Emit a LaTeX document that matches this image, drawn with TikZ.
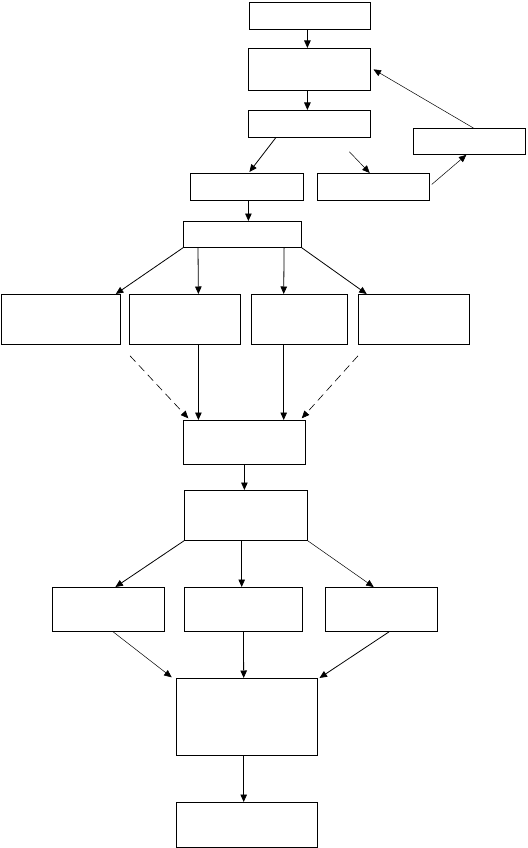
\documentclass[tikz,border=0pt]{standalone}
\usetikzlibrary{arrows.meta}
\begin{document}
\begin{tikzpicture}[x=1pt,y=-1pt,
  box/.style={draw,line width=0.8pt,inner sep=0pt,anchor=north west},
  arr/.style={-{Triangle[length=7.5pt,width=6.5pt]},line width=0.8pt},
  thinarr/.style={-{Triangle[length=7.5pt,width=6.5pt]},line width=0.5pt},
  dasharr/.style={-{Triangle[length=7.5pt,width=6.5pt]},line width=0.6pt,dash pattern=on 8pt off 5pt}]
\useasboundingbox (0,0) rectangle (527,848);
% boxes
\node[box,minimum width=121pt,minimum height=27pt] (b1) at (249,2) {};
\node[box,minimum width=122pt,minimum height=42pt] (b2) at (248,48) {};
\node[box,minimum width=122pt,minimum height=27pt] (b3) at (248,110) {};
\node[box,minimum width=112pt,minimum height=26pt] (b4) at (413,128) {};
\node[box,minimum width=113pt,minimum height=27pt] (b5) at (190,173) {};
\node[box,minimum width=112pt,minimum height=27pt] (b6) at (317,173) {};
\node[box,minimum width=118pt,minimum height=26pt] (b7) at (183,221) {};
\node[box,minimum width=119pt,minimum height=50pt] (c1) at (1,294) {};
\node[box,minimum width=111pt,minimum height=50pt] (c2) at (129,294) {};
\node[box,minimum width=96pt,minimum height=50pt] (c3) at (251,294) {};
\node[box,minimum width=111pt,minimum height=50pt] (c4) at (358,294) {};
\node[box,minimum width=122pt,minimum height=44pt] (b8) at (183,420) {};
\node[box,minimum width=123pt,minimum height=50pt] (b9) at (184,490) {};
\node[box,minimum width=112pt,minimum height=44pt] (d1) at (52,587) {};
\node[box,minimum width=118pt,minimum height=44pt] (d2) at (184,587) {};
\node[box,minimum width=112pt,minimum height=44pt] (d3) at (325,587) {};
\node[box,minimum width=141pt,minimum height=77pt] (b10) at (176,678) {};
\node[box,minimum width=141pt,minimum height=45pt] (b11) at (176,802) {};
% connectors
\draw[arr] ([xshift=-2.5]b1.south) -- ([xshift=-2]b2.north);
\draw[arr] ([xshift=-2]b2.south) -- ([xshift=-2]b3.north);
\draw[arr] ([xshift=27.7]b3.south west) -- ([xshift=2.5,yshift=1]b5.north);
\draw[thinarr] ([xshift=40,yshift=-14]b3.south) -- ([xshift=-3.7]b6.north);
\draw[thinarr] ([xshift=2,yshift=2.5]b6.east) -- ([xshift=-3]b4.south);
\draw[thinarr] ([xshift=4]b4.north) -- ([xshift=2.7]b2.east);
\draw[arr] ([xshift=1.5]b5.south) -- ([xshift=6]b7.north);
\draw[arr] (b7.south west) -- ([xshift=-5]c1.north east);
\draw[arr] ([xshift=15]b7.south west) -- ([xshift=13.5]c2.north);
\draw[arr] ([xshift=-17.7]b7.south east) -- ([xshift=-15.7]c3.north);
\draw[arr] (b7.south east) -- ([xshift=8.7]c4.north west);
\draw[dasharr] ([xshift=1,yshift=-11]c2.south west) -- ([xshift=5.3,yshift=1.7]b8.north west);
\draw[dasharr] ([yshift=-11]c4.south west) -- ([xshift=-4,yshift=1.7]b8.north east);
\draw[arr] ([xshift=13.5]c2.south) -- ([xshift=-46]b8.north);
\draw[arr] ([xshift=-15.7]c3.south) -- ([xshift=39.3]b8.north);
\draw[arr] (b8.south) -- ([xshift=-1.5]b9.north);
\draw[arr] (b9.south west) -- ([xshift=7]d1.north);
\draw[arr] ([xshift=-4.2]b9.south) -- ([xshift=-1.7]d2.north);
\draw[thinarr] (b9.south east) -- ([xshift=-7.7]d3.north);
\draw[thinarr] ([xshift=4.7]d1.south) -- ([xshift=-4.3,yshift=0.7]b10.north west);
\draw[arr] (d2.south) -- ([xshift=-3.2]b10.north);
\draw[arr] ([xshift=7.7]d3.south) -- ([xshift=1.7]b10.north east);
\draw[arr] ([xshift=-3.2]b10.south) -- ([xshift=-3.2]b11.north);
\end{tikzpicture}
\end{document}
